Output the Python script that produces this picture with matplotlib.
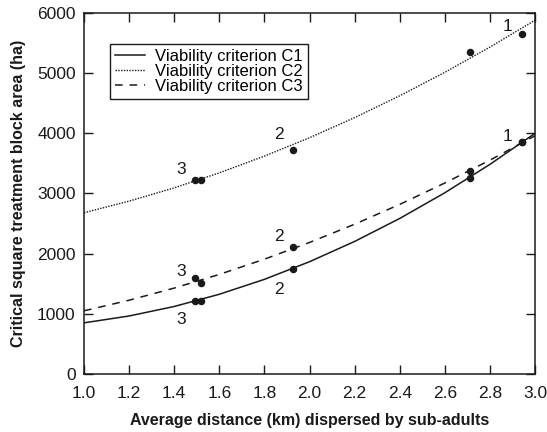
import matplotlib
matplotlib.use("Agg")
import matplotlib.pyplot as plt

plt.rcParams['font.family'] = ['Liberation Sans', 'DejaVu Sans']

# --- fitted curves at each x tick ---
curve_x = [1.0, 1.2, 1.4, 1.6, 1.8, 2.0, 2.2, 2.4, 2.6, 2.8, 3.0]
curve_c1 = [850, 964, 1122, 1325, 1573, 1866, 2203, 2585, 3012, 3484, 4000]
curve_c2 = [2680, 2873, 3094, 3343, 3621, 3927, 4261, 4624, 5014, 5433, 5880]
curve_c3 = [1050, 1226, 1428, 1655, 1908, 2186, 2489, 2819, 3174, 3554, 3960]

# --- observed points ---
pts_x = [1.493, 1.519, 1.926, 2.710, 2.941]
pts_c1 = [1214, 1214, 1752, 3255, 3859]
pts_c2 = [3227, 3227, 3715, 5351, 5656]
pts_c3 = [1602, 1508, 2107, 3382, 3859]

# --- scenario numbers written next to the points ---
note_text = ["1", "1", "2", "2", "2", "3", "3", "3"]
note_x = [2.879, 2.879, 1.864, 1.864, 1.864, 1.431, 1.431, 1.431]
note_y = [5778, 3948, 3976, 2285, 1397, 3394, 1702, 909]

ink = "#1a1a1a"

fig = plt.figure(figsize=(5.47, 4.32), dpi=100)
ax = fig.add_axes([0.1536, 0.1343, 0.8245, 0.8356])

ax.plot(curve_x, curve_c1, color=ink, lw=1.1, ls="-", label="Viability criterion C1")
ax.plot(curve_x, curve_c2, color=ink, lw=1.0, ls=(0, (1, 1)), label="Viability criterion C2")
ax.plot(curve_x, curve_c3, color=ink, lw=1.1, ls=(0, (5, 4.5)), label="Viability criterion C3")

for ys in (pts_c1, pts_c2, pts_c3):
    ax.plot(pts_x, ys, "o", color=ink, ms=4.4, ls="none")

for t, x, y in zip(note_text, note_x, note_y):
    ax.text(x, y, t, fontsize=12.5, color=ink, ha="center", va="center")

ax.set_xlim(1.0, 3.0)
ax.set_ylim(0, 6000)
ax.set_xticks([1.0, 1.2, 1.4, 1.6, 1.8, 2.0, 2.2, 2.4, 2.6, 2.8, 3.0])
ax.set_yticks([0, 1000, 2000, 3000, 4000, 5000, 6000])
ax.tick_params(direction="in", top=True, right=True, length=6.5, width=1,
               labelsize=12.5, colors=ink)
ax.tick_params(axis="x", pad=9)
ax.tick_params(axis="y", pad=6)
for s in ax.spines.values():
    s.set_linewidth(1.1)
    s.set_color(ink)

ax.set_xlabel("Average distance (km) dispersed by sub-adults", fontsize=11.5,
              fontweight="bold", color=ink, labelpad=8)
ax.set_ylabel("Critical square treatment block area (ha)", fontsize=11.5,
              fontweight="bold", color=ink, labelpad=8)

leg = ax.legend(loc="upper left", bbox_to_anchor=(0.0576, 0.914), fontsize=12,
                frameon=True, fancybox=False, edgecolor=ink, framealpha=1,
                handlelength=1.8, labelspacing=0.0, borderpad=0.3,
                handletextpad=0.6, borderaxespad=0)
leg.get_frame().set_linewidth(1.0)

plt.savefig("out.png", dpi=100)
